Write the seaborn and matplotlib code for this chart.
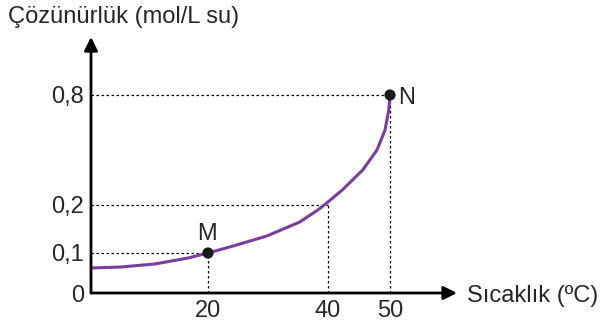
import numpy as np
import pandas as pd
import seaborn as sns
import matplotlib.pyplot as plt
from matplotlib.transforms import ScaledTranslation

# curve (temperature in C, solubility in mol/L su)
sicaklik = [0, 5.1, 10.9, 16.6, 20, 24.2, 29.8, 35.3, 38.3, 40, 42.3, 45.6, 47.9, 49.2, 49.8, 50]
cozunurluk = [0.0625, 0.065, 0.0725, 0.0875, 0.1, 0.1146, 0.1354, 0.1646, 0.1896, 0.2164,
              0.2818, 0.3909, 0.5, 0.6091, 0.7182, 0.8]

# marked points
nokta_adi = ["M", "N"]
nokta_t = [20, 50]
nokta_s = [0.1, 0.8]

# dotted guide lines (temperature, solubility)
kilavuz_t = [20, 40, 50]
kilavuz_s = [0.1, 0.2, 0.8]

x_ticks = [20, 40, 50]
y_ticks = [0, 0.1, 0.2, 0.8]
y_labels = ["0", "0,1", "0,2", "0,8"]

# both axes of the drawing are schematic, not linear
x_nodes = [0, 20, 40, 50, 62]
x_pos = [0, 117, 237, 299, 371]
y_nodes = [0, 0.1, 0.2, 0.8, 1.2]
y_pos = [0, 40, 88, 198, 271.3]


def xf(v):
    return np.interp(v, x_nodes, x_pos)


def xi(v):
    return np.interp(v, x_pos, x_nodes)


def yf(v):
    return np.interp(v, y_nodes, y_pos)


def yi(v):
    return np.interp(v, y_pos, y_nodes)


sns.set_style("white")
plt.rcParams["font.family"] = ["Liberation Sans", "DejaVu Sans"]

fig = plt.figure(figsize=(6, 3.27), dpi=100)
ax = fig.add_axes([91 / 600, 34 / 327, (457 - 91) / 600, (293 - 37) / 327])
ax.set_xscale("function", functions=(xf, xi))
ax.set_yscale("function", functions=(yf, yi))

df = pd.DataFrame({"t": sicaklik, "s": cozunurluk})
pts = pd.DataFrame({"t": nokta_t, "s": nokta_s, "ad": nokta_adi})

for t, s in zip(kilavuz_t, kilavuz_s):
    ax.plot([0, t], [s, s], color="black", lw=0.9, ls=(0, (2, 2)))
    ax.plot([t, t], [0, s], color="black", lw=0.9, ls=(0, (2, 2)))

line = sns.lineplot(data=df, x="t", y="s", ax=ax, color="#7b3c9e", lw=2.2, sort=False)
line.lines[-1].set_solid_joinstyle("round")
sns.scatterplot(data=pts, x="t", y="s", ax=ax, color="#1a1a1a", s=65, zorder=5, edgecolor="none")

ax.text(20, 0.1, "M", ha="center", va="bottom", fontsize=17,
        transform=ax.transData + ScaledTranslation(-1 / 72, 6 / 72, fig.dpi_scale_trans))
ax.text(50, 0.8, "N", ha="left", va="center", fontsize=17,
        transform=ax.transData + ScaledTranslation(6 / 72, -2 / 72, fig.dpi_scale_trans))

ax.set_xlim(0, xi(366))
ax.set_ylim(0, yi(256))
ax.set_xticks(x_ticks)
ax.set_yticks(y_ticks, y_labels)
ax.tick_params(length=0, labelsize=17, pad=5)
ax.set_xlabel("")
ax.set_ylabel("")

for sp in ax.spines.values():
    sp.set_visible(False)

# arrow axes
for tip in [(1, 0), (0, 1)]:
    ax.annotate("", xy=tip, xytext=(0, 0), xycoords="axes fraction",
                arrowprops=dict(arrowstyle="-|>", color="black", lw=2, mutation_scale=20,
                                shrinkA=0, shrinkB=0))

fig.text(8 / 600, 1 - 17 / 327, "Çözünürlük (mol/L su)", fontsize=17, va="center", ha="left")
fig.text(467 / 600, 1 - 296 / 327, "Sıcaklık (ºC)", fontsize=17, va="center", ha="left")

fig.savefig("out.png", dpi=100)
